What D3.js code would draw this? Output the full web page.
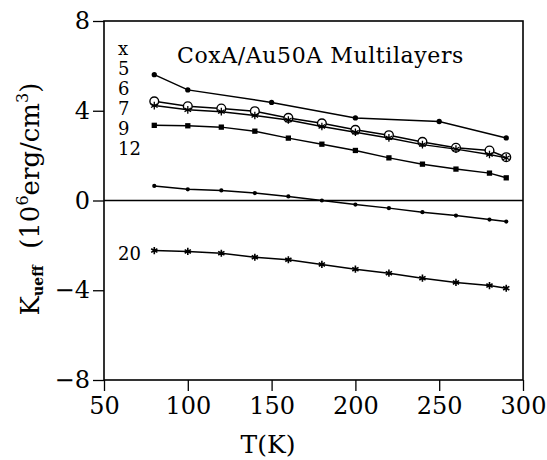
<!DOCTYPE html>
<html>
<head>
<meta charset="utf-8">
<script src="https://cdn.jsdelivr.net/npm/d3@7"></script>
<style>
  body { margin: 0; background: #fff; }
  svg text { font-family: "DejaVu Serif", "Liberation Serif", serif; fill: #000; }
</style>
</head>
<body>
<div id="chart"></div>
<script>
// temperatures (K)
const tempsFull = [80, 100, 120, 140, 160, 180, 200, 220, 240, 260, 280, 290];
const temps5 = [80, 100, 150, 200, 250, 290];

// K_ueff values, 10^6 erg/cm^3
const k5  = [5.61, 4.93, 4.37, 3.68, 3.52, 2.79];
const k6  = [4.42, 4.20, 4.10, 3.98, 3.68, 3.44, 3.15, 2.91, 2.61, 2.35, 2.23, 1.93];
const k7  = [4.23, 4.04, 3.96, 3.79, 3.59, 3.30, 3.04, 2.79, 2.49, 2.29, 2.05, 1.90];
const k9  = [3.35, 3.33, 3.27, 3.09, 2.78, 2.51, 2.23, 1.90, 1.62, 1.40, 1.22, 1.01];
const k12 = [0.65, 0.50, 0.45, 0.33, 0.18, 0.00, -0.18, -0.34, -0.52, -0.67, -0.85, -0.94];
const k20 = [-2.23, -2.27, -2.35, -2.53, -2.64, -2.85, -3.06, -3.24, -3.46, -3.65, -3.79, -3.91];

const legendLabels = ['x', '5', '6', '7', '9', '12'];
const xTicks = [50, 100, 150, 200, 250, 300];
const yTicks = [-8, -4, 0, 4, 8];
const title = 'CoxA/Au50A Multilayers';

const W = 547, H = 460;
const margin = { top: 21, right: 24, bottom: 80, left: 104 };
const width = W - margin.left - margin.right,
      height = H - margin.top - margin.bottom;

const x = d3.scaleLinear().domain([50, 300]).range([0, width]);
const y = d3.scaleLinear().domain([-8, 8]).range([height, 0]);

const svg = d3.select('#chart').append('svg')
  .attr('width', W).attr('height', H);
const g = svg.append('g')
  .attr('transform', 'translate(' + margin.left + ',' + margin.top + ')');

// frame
g.append('rect')
  .attr('width', width).attr('height', height)
  .attr('fill', 'none').attr('stroke', '#000').attr('stroke-width', 1.6);

// zero line
g.append('line')
  .attr('x1', 0).attr('x2', width)
  .attr('y1', y(0)).attr('y2', y(0))
  .attr('stroke', '#000').attr('stroke-width', 1.4);

const xAxis = g.append('g')
  .attr('transform', 'translate(0,' + height + ')')
  .call(d3.axisBottom(x).tickValues(xTicks).tickSize(11).tickPadding(6));
const yAxis = g.append('g')
  .call(d3.axisLeft(y).tickValues(yTicks).tickSize(11).tickPadding(3));

[xAxis, yAxis].forEach(a => {
  a.select('.domain').remove();
  a.selectAll('line').attr('stroke', '#000').attr('stroke-width', 1.3);
  a.selectAll('text').attr('font-size', 24).attr('fill', '#000');
});

const series = [
  { t: temps5, v: k5, mark: 'dot' },
  { t: tempsFull, v: k6, mark: 'circle' },
  { t: tempsFull, v: k7, mark: 'star' },
  { t: tempsFull, v: k9, mark: 'square' },
  { t: tempsFull, v: k12, mark: 'small' },
  { t: tempsFull, v: k20, mark: 'asterisk' }
];

const line = d3.line().x(d => x(d[0])).y(d => y(d[1]));

series.forEach(s => {
  const pts = s.t.map((t, i) => [t, s.v[i]]);
  g.append('path')
    .datum(pts)
    .attr('d', line)
    .attr('fill', 'none')
    .attr('stroke', '#000')
    .attr('stroke-width', 1.5);

  const m = g.append('g').selectAll('path').data(pts).enter().append('path')
    .attr('transform', d => 'translate(' + x(d[0]) + ',' + y(d[1]) + ')');
  if (s.mark === 'dot') {
    m.attr('d', d3.symbol(d3.symbolCircle, 22)).attr('fill', '#000');
  } else if (s.mark === 'circle') {
    m.attr('d', d3.symbol(d3.symbolCircle, 60)).attr('fill', '#fff')
      .attr('stroke', '#000').attr('stroke-width', 1.4);
  } else if (s.mark === 'star') {
    m.attr('d', d3.symbol(d3.symbolAsterisk, 40)).attr('fill', 'none')
      .attr('stroke', '#000').attr('stroke-width', 1.3);
  } else if (s.mark === 'square') {
    m.attr('d', d3.symbol(d3.symbolSquare, 28)).attr('fill', '#000');
  } else if (s.mark === 'small') {
    m.attr('d', d3.symbol(d3.symbolCircle, 14)).attr('fill', '#000');
  } else {
    m.attr('d', d3.symbol(d3.symbolAsterisk, 36)).attr('fill', 'none')
      .attr('stroke', '#000').attr('stroke-width', 1.6);
  }
});

// title
svg.append('text')
  .attr('x', 177).attr('y', 63)
  .attr('font-size', 22)
  .attr('letter-spacing', 0.6)
  .text(title);

// legend of x values
svg.append('g').selectAll('text').data(legendLabels).enter().append('text')
  .attr('x', 118)
  .attr('y', (d, i) => 55 + i * 20)
  .attr('font-size', 18)
  .text(d => d);
svg.append('text')
  .attr('x', 118).attr('y', 260)
  .attr('font-size', 18)
  .text('20');

// axis titles
svg.append('text')
  .attr('x', 268).attr('y', 453)
  .attr('text-anchor', 'middle')
  .attr('font-size', 25)
  .text('T(K)');

const yl = svg.append('text')
  .attr('transform', 'translate(39,199) rotate(-90)')
  .attr('text-anchor', 'middle')
  .attr('font-size', 26);
yl.append('tspan').text('K');
yl.append('tspan').attr('font-size', 14).attr('font-weight', 'bold').attr('dy', 4).text('ueff');
yl.append('tspan').attr('dy', -4).text('\u00a0 (10');
yl.append('tspan').attr('font-size', 16).attr('dy', -11).text('6');
yl.append('tspan').attr('dy', 11).text('erg/cm');
yl.append('tspan').attr('font-size', 16).attr('dy', -11).text('3');
yl.append('tspan').attr('dy', 11).text(')');
</script>
</body>
</html>
